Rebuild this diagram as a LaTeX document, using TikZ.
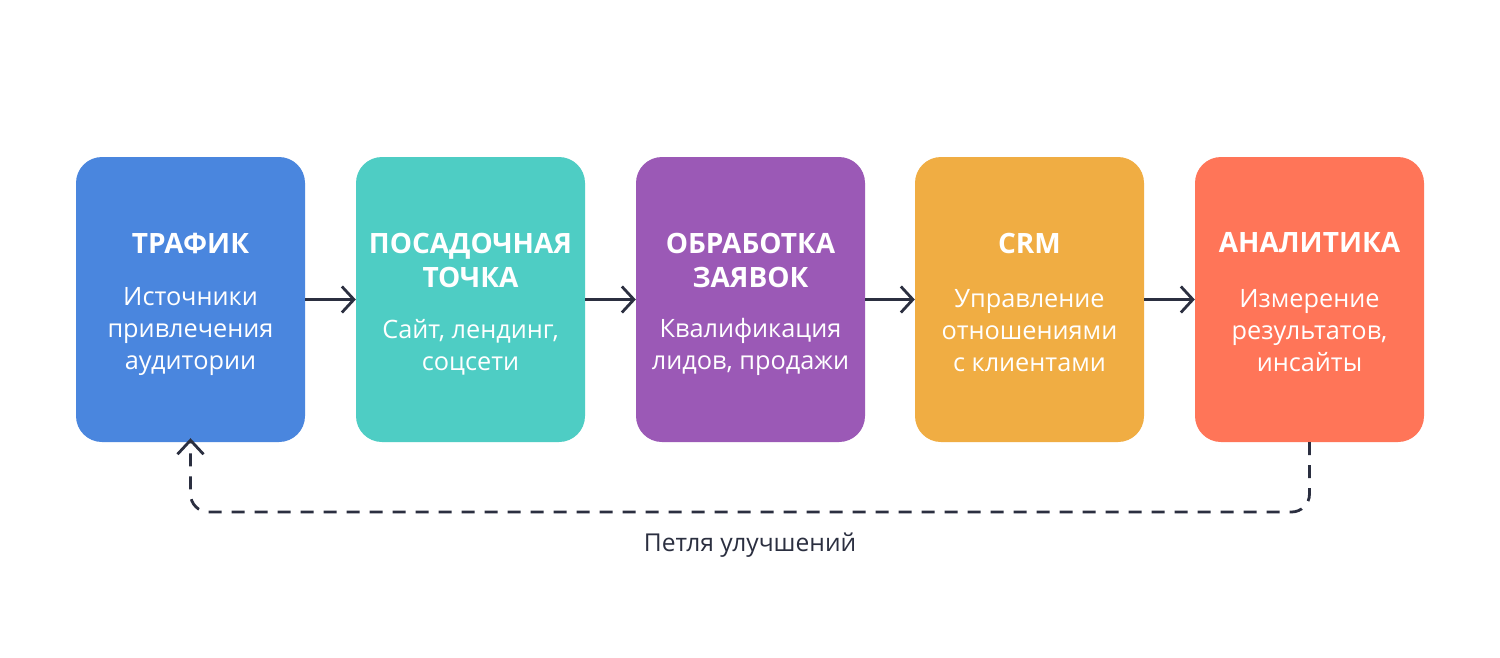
\documentclass[tikz,border=0pt]{standalone}
\usepackage{fontspec}
\setmainfont{Open Sans}
\usetikzlibrary{arrows.meta}
\definecolor{cblue}{HTML}{4A86DE}
\definecolor{cteal}{HTML}{4ECDC4}
\definecolor{cpurple}{HTML}{9B59B6}
\definecolor{corange}{HTML}{F0AD43}
\definecolor{ccoral}{HTML}{FF7558}
\definecolor{cdark}{HTML}{2B2F40}
\tikzset{
  stagebox/.style={rounded corners=26pt, minimum width=229pt, minimum height=285pt, inner sep=0pt, draw=none},
  ttl/.style={text=white, font=\bfseries\fontsize{28}{34}\selectfont, align=center, inner sep=0pt},
  bdy/.style={text=white, font=\fontsize{25.3}{32}\selectfont, align=center, inner sep=0pt},
  flow/.style={draw=cdark, line width=2.8pt, -{Straight Barb[length=12pt,width=26pt,line width=2.8pt]}},
  loop/.style={draw=cdark, line width=2.8pt, dash pattern=on 13pt off 10pt, rounded corners=18pt, -{Straight Barb[length=14pt,width=26pt,line width=2.8pt]}},
}
\begin{document}
\begin{tikzpicture}[x=1pt,y=-1pt]
\useasboundingbox (0,0) rectangle (1500,657);
\fill[white] (0,0) rectangle (1500,657);
% boxes
\node[stagebox, fill=cblue]   (b1) at (190.5,299.5) {};
\node[stagebox, fill=cteal]   (b2) at (470.5,299.5) {};
\node[stagebox, fill=cpurple] (b3) at (750.5,299.5) {};
\node[stagebox, fill=corange] (b4) at (1029.5,299.5) {};
\node[stagebox, fill=ccoral]  (b5) at (1309.5,299.5) {};
% titles
\node[ttl] (t1) at (190.5,243) {ТРАФИК};
\node[ttl] (t2) at (470.5,260) {ПОСАДОЧНАЯ\\ТОЧКА};
\node[ttl] (t3) at (750.5,260) {ОБРАБОТКА\\ЗАЯВОК};
\node[ttl] (t4) at (1029.5,243) {CRM};
\node[ttl] (t5) at (1309.5,243) {АНАЛИТИКА};
% bodies
\node[bdy] (d1) at (190.5,331) {Источники\\привлечения\\аудитории};
\node[bdy] (d2) at (470.5,347) {Сайт, лендинг,\\соцсети};
\node[bdy] (d3) at (750.5,347) {Квалификация\\лидов, продажи};
\node[bdy] (d4) at (1029.5,331) {Управление\\отношениями\\с клиентами};
\node[bdy] (d5) at (1309.5,331) {Измерение\\результатов,\\инсайты};
% arrows
\draw[flow] (b1.east) -- (b2.west);
\draw[flow] (b2.east) -- (b3.west);
\draw[flow] (b3.east) -- (b4.west);
\draw[flow] (b4.east) -- (b5.west);
% loop
\coordinate (lr) at (1309.5,512);
\coordinate (ll) at (190.5,512);
\draw[loop] (b5.south) -- (lr) -- (ll) -- ([yshift=4pt]b1.south);
\node[text=cdark, font=\fontsize{24.6}{28}\selectfont, inner sep=0pt] (lab) at (750,545) {Петля улучшений};
\end{tikzpicture}
\end{document}
